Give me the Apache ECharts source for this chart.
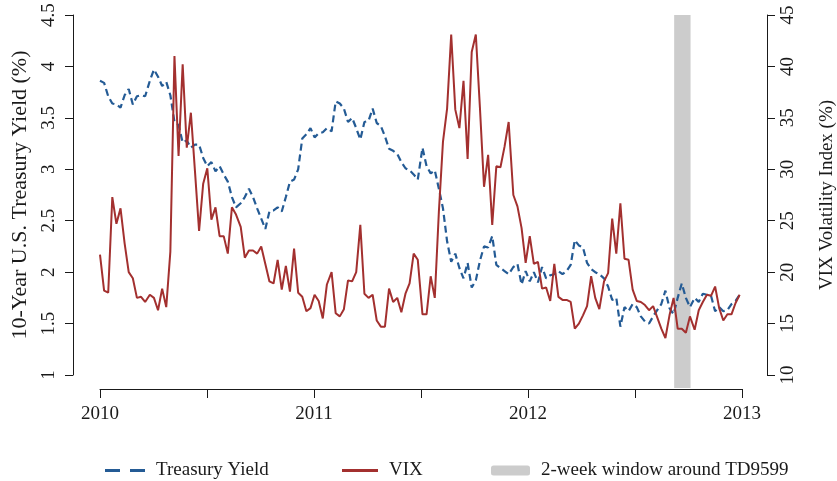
<!DOCTYPE html>
<html>
<head>
<meta charset="utf-8">
<title>Treasury Yield and VIX, 2010-2012</title>
<script src="https://cdn.jsdelivr.net/npm/echarts@6/dist/echarts.min.js"></script>
<style>
  html, body { margin: 0; padding: 0; background: #fff; }
  #chart { width: 837px; height: 481px; }
</style>
</head>
<body>
<div id="chart"></div>
<script>
// Weekly observations, first and last week of the sample
const firstWeek = '2010-01-01';
const lastWeek = '2012-12-28';

// 10-year U.S. Treasury yield (%), weekly
const treasuryYield = [
  3.86, 3.84, 3.71, 3.64, 3.63, 3.60, 3.72, 3.78, 3.63, 3.71,
  3.72, 3.71, 3.86, 3.97, 3.90, 3.81, 3.85, 3.72, 3.46, 3.43,
  3.26, 3.28, 3.21, 3.24, 3.24, 3.11, 3.03, 3.07, 2.98, 3.03,
  2.95, 2.88, 2.73, 2.63, 2.67, 2.73, 2.81, 2.73, 2.62, 2.52,
  2.42, 2.59, 2.60, 2.63, 2.59, 2.73, 2.88, 2.90, 3.00, 3.30,
  3.34, 3.40, 3.31, 3.35, 3.36, 3.40, 3.37, 3.66, 3.64, 3.59,
  3.46, 3.50, 3.40, 3.29, 3.46, 3.47, 3.59, 3.45, 3.42, 3.32,
  3.20, 3.18, 3.15, 3.07, 3.01, 2.99, 2.95, 2.90, 3.21, 3.03,
  2.96, 2.99, 2.81, 2.62, 2.30, 2.10, 2.18, 2.04, 1.94, 2.09,
  1.85, 1.92, 2.11, 2.25, 2.24, 2.35, 2.07, 2.04, 2.01, 1.98,
  2.05, 2.08, 1.88, 2.01, 1.91, 2.00, 1.90, 2.05, 1.94, 1.97,
  1.98, 2.01, 1.98, 2.01, 2.07, 2.31, 2.26, 2.24, 2.09, 2.03,
  2.00, 1.98, 1.94, 1.86, 1.73, 1.75, 1.47, 1.66, 1.62, 1.69,
  1.66, 1.57, 1.52, 1.50, 1.57, 1.63, 1.69, 1.82, 1.65, 1.59,
  1.75, 1.89, 1.75, 1.66, 1.75, 1.71, 1.79, 1.78, 1.77, 1.62,
  1.66, 1.62, 1.63, 1.69, 1.72, 1.78
];

// CBOE VIX (%), weekly
const vix = [
  21.7, 18.2, 18.0, 27.3, 24.7, 26.2, 22.8, 20.0, 19.4, 17.5,
  17.6, 17.1, 17.8, 17.5, 16.3, 18.4, 16.6, 22.0, 41.0, 31.3,
  40.2, 32.1, 35.5, 29.8, 24.0, 28.6, 30.1, 25.1, 26.3, 23.5,
  23.5, 21.8, 26.3, 25.6, 24.4, 21.4, 22.1, 22.1, 21.8, 22.5,
  20.8, 19.1, 18.9, 21.2, 18.3, 20.6, 18.1, 22.3, 18.0, 17.6,
  16.2, 16.5, 17.8, 17.2, 15.5, 18.8, 20.0, 16.0, 15.7, 16.4,
  19.2, 19.1, 20.0, 24.6, 17.9, 17.5, 17.8, 15.3, 14.7, 14.7,
  18.4, 17.1, 17.5, 16.1, 17.9, 18.9, 21.8, 21.2, 15.9, 15.9,
  19.6, 17.5, 25.9, 32.7, 35.9, 43.1, 35.8, 34.0, 38.6, 31.0,
  41.4, 43.1, 36.0, 28.3, 31.4, 24.6, 30.3, 30.2, 32.2, 34.6,
  27.5, 26.4, 24.3, 20.9, 23.5, 20.8, 21.0, 18.4, 18.5, 17.2,
  20.8, 17.6, 17.3, 17.3, 17.1, 14.5, 15.0, 15.8, 16.7, 19.6,
  17.5, 16.4, 19.1, 19.9, 25.2, 21.8, 26.7, 21.3, 21.2, 18.3,
  17.2, 17.1, 16.8, 16.3, 16.7, 15.6, 14.5, 13.6, 15.8, 17.5,
  14.5, 14.5, 14.1, 15.7, 14.4, 16.3, 17.1, 17.8, 17.7, 18.6,
  16.5, 15.3, 15.9, 15.9, 17.0, 17.8
];

// Event window around TD9599
const windowStart = '2012-09-07';
const windowEnd = '2012-10-05';

// Axis tick labels
const yearTicks = [2010, 2011, 2012, 2013];
const yieldTicks = [1, 1.5, 2, 2.5, 3, 3.5, 4, 4.5];
const vixTicks = [10, 15, 20, 25, 30, 35, 40, 45];

const DAY = 86400000;
function toYear(dateStr) {
  const t = Date.parse(dateStr + 'T00:00:00Z');
  const y = new Date(t).getUTCFullYear();
  const y0 = Date.UTC(y, 0, 1), y1 = Date.UTC(y + 1, 0, 1);
  return y + (t - y0) / (y1 - y0);
}
function weekDates(n) {
  const t0 = Date.parse(firstWeek + 'T00:00:00Z');
  const t1 = Date.parse(lastWeek + 'T00:00:00Z');
  const out = [];
  for (let i = 0; i < n; i++) {
    const t = t0 + (t1 - t0) * i / (n - 1);
    out.push(new Date(Math.round(t / DAY) * DAY).toISOString().slice(0, 10));
  }
  return out;
}
const dates = weekDates(vix.length);
const yieldData = treasuryYield.map((v, i) => [toYear(dates[i]), v]);
const vixData = vix.map((v, i) => [toYear(dates[i]), v]);

const FONT = 'Liberation Serif';
const INK = '#1a1a1a';
const BLUE = '#245b95';
const RED = '#a3302f';
const GREY = '#cccccc';

// legend keys: two short dashes, a solid stroke, a rounded grey bar
const DASH_KEY = 'path://M0,0H15V3H0Z M25,0H40V3H25Z';
const LINE_KEY = 'path://M0,0H36V3H0Z';

const legendText = { fontFamily: FONT, fontSize: 19, color: INK, padding: [0, 0, 0, 6] };

const chart = echarts.init(document.getElementById('chart'), null, { renderer: 'canvas' });
chart.setOption({
  backgroundColor: '#ffffff',
  animation: false,
  textStyle: { fontFamily: FONT, color: INK },
  grid: [
    { left: 100, right: 95, top: 15, bottom: 106, containLabel: false, outerBoundsMode: 'none' },
    { left: 100, right: 95, top: 15, bottom: 93, containLabel: false, outerBoundsMode: 'none' }
  ],
  xAxis: [
    {
      type: 'value', gridIndex: 0,
      min: yearTicks[0], max: yearTicks[yearTicks.length - 1], interval: 0.5,
      offset: 14,
      axisLine: { show: true, lineStyle: { color: INK, width: 1 } },
      axisTick: { show: true, length: 9, lineStyle: { color: INK, width: 1 } },
      axisLabel: {
        margin: 16, fontFamily: FONT, fontSize: 19, color: INK,
        formatter: v => (yearTicks.indexOf(v) >= 0 ? String(v) : '')
      },
      splitLine: { show: false }
    },
    {
      type: 'value', gridIndex: 1, show: false,
      min: yearTicks[0], max: yearTicks[yearTicks.length - 1]
    }
  ],
  yAxis: [
    {
      type: 'value', gridIndex: 0, position: 'left', offset: 27,
      min: yieldTicks[0], max: yieldTicks[yieldTicks.length - 1], interval: 0.5,
      name: '10-Year U.S. Treasury Yield (%)',
      nameLocation: 'middle', nameRotate: 90, nameGap: 42,
      nameTextStyle: { fontFamily: FONT, fontSize: 22, color: INK },
      axisLine: { show: true, lineStyle: { color: INK, width: 1 } },
      axisTick: { show: true, length: 8, lineStyle: { color: INK, width: 1 } },
      axisLabel: { rotate: 90, margin: 14, fontFamily: FONT, fontSize: 19, color: INK },
      splitLine: { show: false }
    },
    {
      type: 'value', gridIndex: 0, position: 'right', offset: 25,
      min: vixTicks[0], max: vixTicks[vixTicks.length - 1], interval: 5,
      name: 'VIX Volatility Index (%)',
      nameLocation: 'middle', nameRotate: 90, nameGap: 51,
      nameTextStyle: { fontFamily: FONT, fontSize: 19, color: INK },
      axisLine: { show: true, lineStyle: { color: INK, width: 1 } },
      axisTick: { show: true, length: 8, lineStyle: { color: INK, width: 1 } },
      axisLabel: { rotate: 90, margin: 12, fontFamily: FONT, fontSize: 19, color: INK },
      splitLine: { show: false }
    },
    {
      type: 'value', gridIndex: 1, show: false, min: 0, max: 1
    }
  ],
  legend: [
    {
      data: [{ name: 'Treasury Yield', icon: DASH_KEY }], left: 100, top: 456,
      itemWidth: 40, itemHeight: 3, itemGap: 0,
      textStyle: legendText
    },
    {
      data: [{ name: 'VIX', icon: LINE_KEY }], left: 337, top: 456,
      itemWidth: 36, itemHeight: 3, itemGap: 0,
      textStyle: legendText
    },
    {
      data: [{ name: '2-week window around TD9599', icon: 'roundRect' }],
      left: 486, top: 456,
      itemWidth: 39, itemHeight: 10, itemGap: 0,
      itemStyle: { color: GREY },
      textStyle: legendText
    }
  ],
  series: [
    {
      name: '2-week window around TD9599',
      type: 'line', xAxisIndex: 1, yAxisIndex: 2, data: [],
      symbol: 'none', z: 1,
      itemStyle: { color: GREY },
      lineStyle: { color: GREY },
      markArea: {
        silent: true,
        itemStyle: { color: GREY, opacity: 1 },
        data: [[{ xAxis: toYear(windowStart) }, { xAxis: toYear(windowEnd) }]]
      }
    },
    {
      name: 'Treasury Yield',
      type: 'line', xAxisIndex: 0, yAxisIndex: 0,
      data: yieldData, symbol: 'none', z: 3,
      itemStyle: { color: BLUE },
      lineStyle: { color: BLUE, width: 2.2, type: [7, 4] }
    },
    {
      name: 'VIX',
      type: 'line', xAxisIndex: 0, yAxisIndex: 1,
      data: vixData, symbol: 'none', z: 4,
      itemStyle: { color: RED },
      lineStyle: { color: RED, width: 2 }
    }
  ]
});
</script>
</body>
</html>
